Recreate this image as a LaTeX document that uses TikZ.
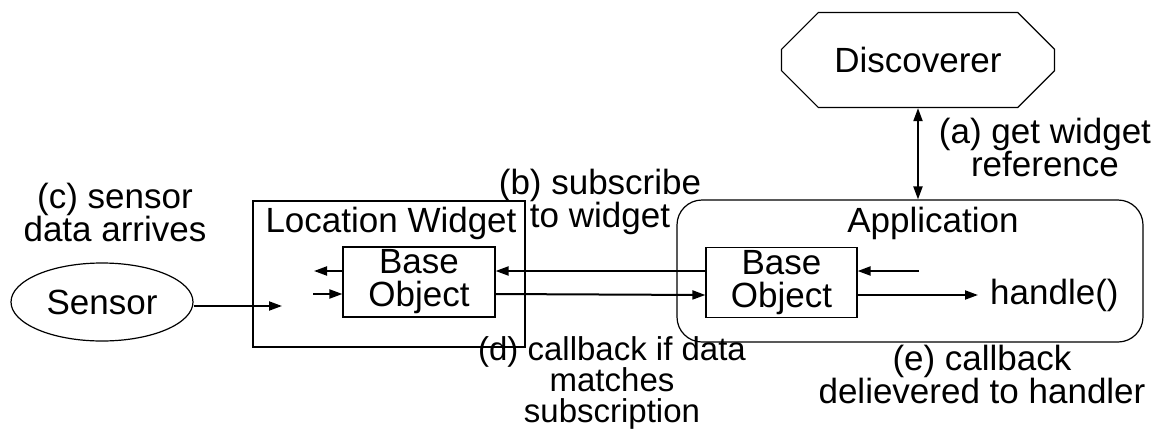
\documentclass[tikz,border=0pt]{standalone}
\usepackage{fontspec}
\setmainfont{Liberation Sans}
\usetikzlibrary{shapes.geometric,shapes.misc,arrows.meta}
\tikzset{
  every node/.style={font=\fontsize{35}{33}\selectfont, inner sep=0pt, align=center},
  thinbox/.style={draw, line width=1.2pt},
  arr/.style={line width=2pt, -{Triangle[length=13pt,width=9pt]}},
  darr/.style={line width=2pt, {Triangle[length=13pt,width=9pt]}-{Triangle[length=13pt,width=9pt]}},
  lbl/.style={align=center},
}
\begin{document}
\begin{tikzpicture}[x=1pt,y=-1pt]
\useasboundingbox (0,0) rectangle (1165,432);
% Discoverer
\node[thinbox, chamfered rectangle, chamfered rectangle xsep=30pt, chamfered rectangle ysep=24pt,
      minimum width=273pt, minimum height=95pt] (disc) at (918,60) {Discoverer};
% Application
\node[thinbox, rounded corners=25pt, minimum width=466pt, minimum height=142pt] (app) at (910,271) {};
\node (apptitle) at (933,223) {Application};
\node[thinbox, minimum width=151pt, minimum height=70pt] (appbo) at (781.5,282.5) {Base\\Object};
% Location widget
\node[thinbox, minimum width=272pt, minimum height=146pt] (lw) at (389,274) {};
\node (lwtitle) at (391,223) {Location Widget};
\node[thinbox, minimum width=152pt, minimum height=70pt] (lwbo) at (419,282) {Base\\Object};
% Sensor
\node[thinbox, ellipse, minimum width=182pt, minimum height=78pt] (sensor) at (102,302) {Sensor};
% handle
\node[anchor=west] (handle) at (990,295) {handle()};
% free ends
\coordinate (sensend) at (282,306);
\coordinate (lwout) at (314,271);
\coordinate (lwin) at (313,294);
\coordinate (appin) at (919,271);
\coordinate (appout) at (978,295);
% labels
\node[lbl] (la) at (1045,147) {(a) get widget\\reference};
\node[lbl] (lb) at (600,202) {(b) subscribe\\to widget};
\node[lbl] (lc) at (115,212) {(c) sensor\\data arrives};
\node[lbl, font=\fontsize{33}{31}\selectfont] (ld) at (612,383) {(d) callback if data\\matches\\subscription};
\node[lbl] (le) at (982,374) {(e) callback\\delievered to handler};
% connectors
\draw[darr] (disc.south) -- (disc.south |- app.north);
\draw[arr] (sensor.east |- sensend) -- (sensend);
\draw[arr] ([yshift=11pt]lwbo.west) -- (lwout);
\draw[arr] (lwin) -- ([yshift=-12pt]lwbo.west);
\draw[arr] ([yshift=11.5pt]appbo.west) -- ([yshift=11pt]lwbo.east);
\draw[arr] ([yshift=-12pt]lwbo.east) -- ([yshift=-12.5pt]appbo.west);
\draw[arr] (appin) -- ([yshift=11.5pt]appbo.east);
\draw[arr] ([yshift=-12.5pt]appbo.east) -- (appout);
\end{tikzpicture}
\end{document}
